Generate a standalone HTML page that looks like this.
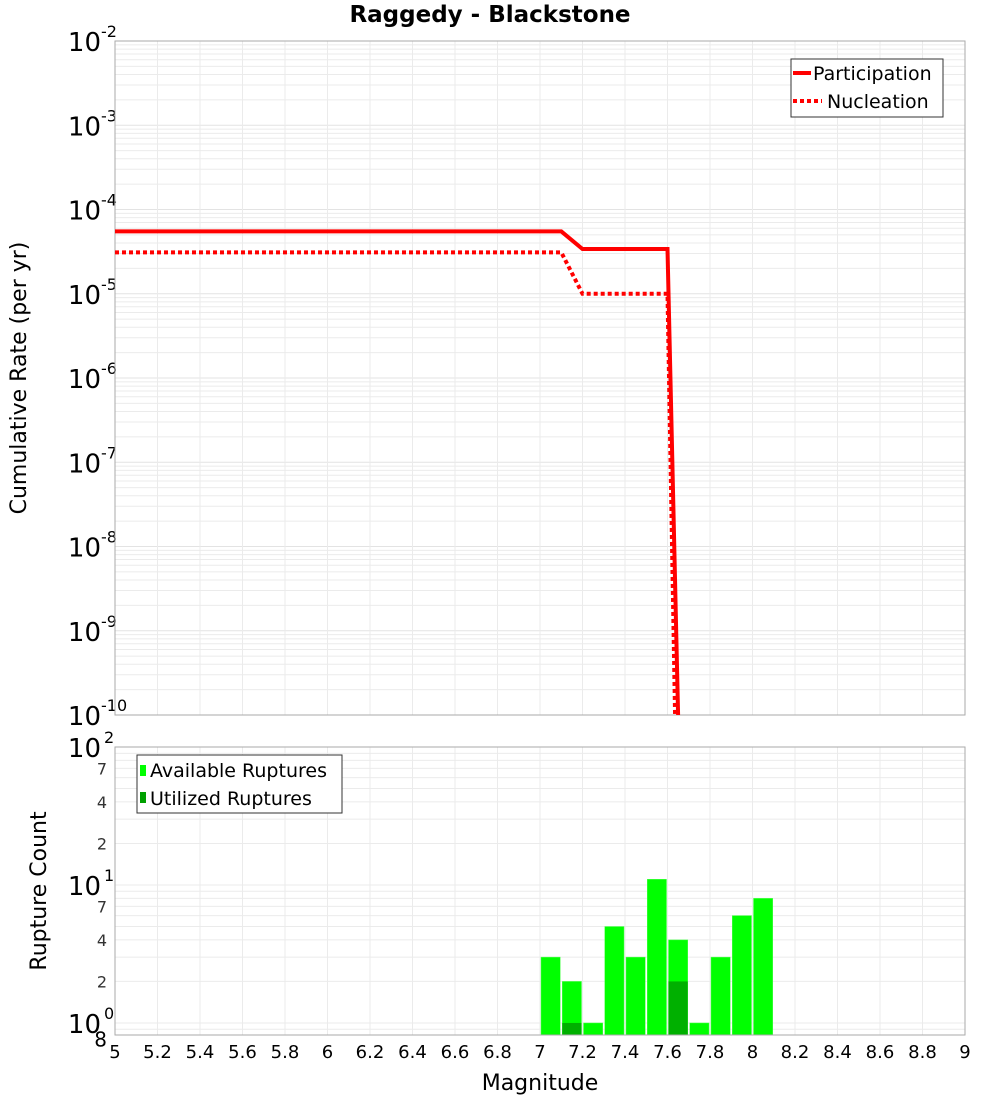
<!DOCTYPE html>
<html><head><meta charset="utf-8">
<style>
html,body{margin:0;padding:0;background:#fff;}
svg{display:block;font-family:"Liberation Sans","DejaVu Sans",sans-serif;}
</style></head>
<body>
<svg id="chart" width="1000" height="1100" viewBox="0 0 1000 1100" xmlns="http://www.w3.org/2000/svg">
<text x="490" y="22" text-anchor="middle" font-size="23" font-weight="bold" font-family="DejaVu Sans, sans-serif">Raggedy - Blackstone</text>
<g id="topg"></g>
<g id="botg"></g>
<text transform="translate(26,378) rotate(-90)" text-anchor="middle" font-size="22" font-family="DejaVu Sans, sans-serif">Cumulative Rate (per yr)</text>
<text transform="translate(46,891) rotate(-90)" text-anchor="middle" font-size="22" font-family="DejaVu Sans, sans-serif">Rupture Count</text>
<text x="540" y="1090" text-anchor="middle" font-size="22" font-family="DejaVu Sans, sans-serif">Magnitude</text>
</svg>
<script>
// Data
const partMags = [5.0, 7.1, 7.2, 7.6, 7.65];
const partRates = [5.5e-5, 5.5e-5, 3.4e-5, 3.4e-5, 1e-10];
const nuclMags = [5.0, 7.1, 7.2, 7.6, 7.65];
const nuclRates = [3.1e-5, 3.1e-5, 1.0e-5, 1.0e-5, 1e-12];
const binMags = [7.05, 7.15, 7.25, 7.35, 7.45, 7.55, 7.65, 7.75, 7.85, 7.95, 8.05];
const availCounts = [3, 2, 1, 5, 3, 11, 4, 1, 3, 6, 8];
const usedCounts = [0, 1, 0, 0, 0, 0, 2, 0, 0, 0, 0];
const xTicks = [5,5.2,5.4,5.6,5.8,6,6.2,6.4,6.6,6.8,7,7.2,7.4,7.6,7.8,8,8.2,8.4,8.6,8.8,9];
const topDecades = [-2,-3,-4,-5,-6,-7,-8,-9,-10];
const botDecades = [2,1,0];
const botMinor = [7,4,2];

const NS = "http://www.w3.org/2000/svg";
const L = 115, R = 965;
const T1 = 41, B1 = 715, T2 = 747, B2 = 1035;
const xS = m => L + (m - 5) / 4 * (R - L);
const yTop = v => T1 + (-2 - Math.log10(v)) / 8 * (B1 - T1);
const botMin = Math.log10(0.818);
const yBot = v => T2 + (2 - Math.log10(v)) / (2 - botMin) * (B2 - T2);

function mk(parent, tag, attrs) {
  const e = document.createElementNS(NS, tag);
  for (const k in attrs) e.setAttribute(k, attrs[k]);
  parent.appendChild(e);
  return e;
}
const topG = document.getElementById('topg');
const botG = document.getElementById('botg');

const defs = mk(document.getElementById('chart'), 'defs', {});
const c1 = mk(defs, 'clipPath', {id: 'clipTop'});
mk(c1, 'rect', {x: L, y: T1, width: R - L, height: B1 - T1});

const bg1 = mk(topG, 'rect', {x: L, y: T1, width: R - L, height: B1 - T1, fill: '#fff'});


for (let d = -10; d < -2; d++) {
  for (let k = 2; k <= 9; k++) {
    const y = yTop(k * Math.pow(10, d));
    const g = mk(topG, 'line', {x1: L, x2: R, y1: y, y2: y, stroke: '#ebebeb', 'stroke-width': 1});
    
    
  }
}
topDecades.forEach(d => {
  const y = yTop(Math.pow(10, d));
  const g = mk(topG, 'line', {x1: L, x2: R, y1: y, y2: y, stroke: '#e3e3e3', 'stroke-width': 1});
  
  
  const t = mk(topG, 'text', {x: 101, y: y + 10, 'text-anchor': 'end', 'font-size': 26, 'font-family': 'DejaVu Sans, sans-serif'});
  t.textContent = '10';
  
  
  const s = mk(topG, 'text', {x: 101, y: y - 4, 'font-size': 16, 'font-family': 'DejaVu Sans, sans-serif'});
  s.textContent = String(d);
  
  
});
xTicks.forEach(m => {
  const x = xS(m);
  const g = mk(topG, 'line', {x1: x, x2: x, y1: T1, y2: B1, stroke: '#ebebeb', 'stroke-width': 1});
  
  
});
const f1 = mk(topG, 'rect', {x: L, y: T1, width: R - L, height: B1 - T1, fill: 'none', stroke: '#aaa', 'stroke-width': 1});



function poly(mags, vals) { return mags.map((m, i) => xS(m).toFixed(1) + ',' + yTop(vals[i]).toFixed(1)).join(' '); }
const nl = mk(topG, 'polyline', {points: poly(nuclMags, nuclRates), fill: 'none', stroke: '#ff0000', 'stroke-width': 4, 'stroke-dasharray': '4,3', 'clip-path': 'url(#clipTop)'});


const pl = mk(topG, 'polyline', {points: poly(partMags, partRates), fill: 'none', stroke: '#ff0000', 'stroke-width': 4, 'clip-path': 'url(#clipTop)'});



const lg = mk(topG, 'g', {});


mk(lg, 'rect', {x: 791, y: 59, width: 152, height: 58, fill: '#fff', stroke: '#333', 'stroke-width': 1});
mk(lg, 'line', {x1: 793, x2: 811, y1: 73, y2: 73, stroke: '#f00', 'stroke-width': 4});
mk(lg, 'line', {x1: 793, x2: 822, y1: 101, y2: 101, stroke: '#f00', 'stroke-width': 4, 'stroke-dasharray': '4,3'});
const lt1 = mk(lg, 'text', {x: 813, y: 80, 'font-size': 19, 'font-family': 'DejaVu Sans, sans-serif'});
lt1.textContent = 'Participation';


const lt2 = mk(lg, 'text', {x: 827, y: 108, 'font-size': 19, 'font-family': 'DejaVu Sans, sans-serif'});
lt2.textContent = 'Nucleation';



const bg2 = mk(botG, 'rect', {x: L, y: T2, width: R - L, height: B2 - T2, fill: '#fff'});


for (let d = -1; d < 2; d++) {
  for (let k = 1; k <= 9; k++) {
    const v = k * Math.pow(10, d);
    if (v < 0.818) continue;
    const y = yBot(v);
    const g = mk(botG, 'line', {x1: L, x2: R, y1: y, y2: y, stroke: '#ebebeb', 'stroke-width': 1});
    
    
  }
}
xTicks.forEach(m => {
  const x = xS(m);
  const g = mk(botG, 'line', {x1: x, x2: x, y1: T2, y2: B2, stroke: '#ebebeb', 'stroke-width': 1});
  
  
  const t = mk(botG, 'text', {x: x, y: 1058, 'text-anchor': 'middle', 'font-size': 18, 'font-family': 'DejaVu Sans, sans-serif'});
  t.textContent = String(m);
  
  
});
botDecades.forEach(d => {
  const y = yBot(Math.pow(10, d));
  const t = mk(botG, 'text', {x: 101, y: y + 10, 'text-anchor': 'end', 'font-size': 26, 'font-family': 'DejaVu Sans, sans-serif'});
  t.textContent = '10';
  
  
  const s = mk(botG, 'text', {x: 104, y: y - 4, 'font-size': 16, 'font-family': 'DejaVu Sans, sans-serif'});
  s.textContent = String(d);
  
  
});
[1, 0].forEach(d => botMinor.forEach(k => {
  const y = yBot(k * Math.pow(10, d));
  const t = mk(botG, 'text', {x: 107, y: y + 6, 'text-anchor': 'end', 'font-size': 16, fill: '#333', 'font-family': 'DejaVu Sans, sans-serif'});
  t.textContent = String(k);
  
  
}));
const e8 = mk(botG, 'text', {x: 107, y: yBot(0.8) + 10, 'text-anchor': 'end', 'font-size': 20, 'font-family': 'DejaVu Sans, sans-serif'});
e8.textContent = '8';



const bw = 0.1 * (R - L) / 4;
binMags.forEach((m, i) => {
  const x0 = xS(m) - bw / 2 + 1;
  const ya = yBot(availCounts[i]);
  const b = mk(botG, 'rect', {x: x0, y: ya, width: bw - 2, height: B2 - ya, fill: '#00ff00', stroke: '#5f5', 'stroke-width': 0.5});
  
  
  if (usedCounts[i] > 0) {
    const yu = yBot(usedCounts[i]);
    const u = mk(botG, 'rect', {x: x0, y: yu, width: bw - 2, height: B2 - yu, fill: '#00b000'});
    
    
  }
});
const f2 = mk(botG, 'rect', {x: L, y: T2, width: R - L, height: B2 - T2, fill: 'none', stroke: '#aaa', 'stroke-width': 1});



const lg2 = mk(botG, 'g', {});


mk(lg2, 'rect', {x: 137, y: 755, width: 205, height: 58, fill: '#fff', stroke: '#333', 'stroke-width': 1});
mk(lg2, 'rect', {x: 140, y: 765, width: 6, height: 11, fill: '#00ff00'});
mk(lg2, 'rect', {x: 140, y: 792, width: 6, height: 11, fill: '#00a000'});
const a1 = mk(lg2, 'text', {x: 150, y: 777, 'font-size': 19, 'font-family': 'DejaVu Sans, sans-serif'});
a1.textContent = 'Available Ruptures';


const a2 = mk(lg2, 'text', {x: 150, y: 805, 'font-size': 19, 'font-family': 'DejaVu Sans, sans-serif'});
a2.textContent = 'Utilized Ruptures';


</script>
</body></html>
